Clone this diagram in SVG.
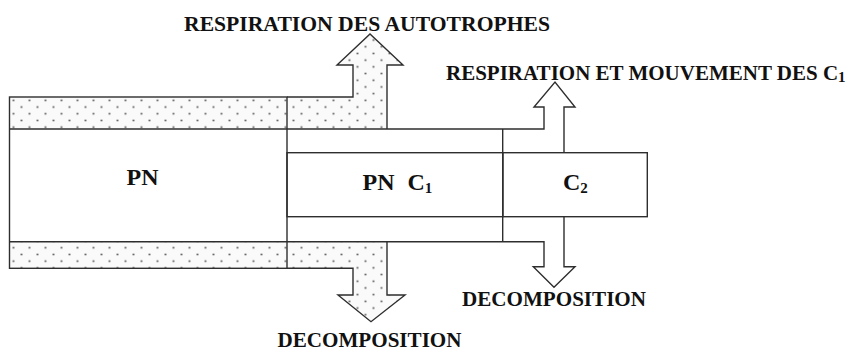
<svg xmlns="http://www.w3.org/2000/svg" width="854" height="352" viewBox="0 0 854 352">
  <style>
    .ln { fill: none; stroke: #2e2e2e; stroke-width: 1.4; stroke-linejoin: miter; }
    .dot { fill: url(#dots); stroke: none; }
    .lbl { font-family: "Liberation Serif", "Times New Roman", serif; font-weight: bold; fill: #111; }
    .big { font-size: 24px; }
    .sm { font-size: 21px; }
    .sub { font-size: 15px; }
  </style>
  <defs>
    <pattern id="dots" patternUnits="userSpaceOnUse" width="16" height="13.4" x="9.5" y="97">
      <rect width="16" height="13.4" fill="#fafafa"/>
      <circle cx="4" cy="3.4" r="0.9" fill="#444"/>
      <circle cx="12" cy="10.1" r="0.9" fill="#444"/>
    </pattern>
  </defs>
  <rect width="854" height="352" fill="#ffffff"/>

  <!-- dotted autotroph respiration / decomposition bands -->
  <g id="band-top">
    <polygon class="dot" points="9.5,97 353,97 353,65 337,65 370,34 403,65 387,65 387,129 9.5,129"/>
  </g>
  <g id="band-bottom">
    <polygon class="dot" points="9.5,241.7 387,241.7 387,295 405,295 371,321.7 338,295 353,295 353,268.3 9.5,268.3"/>
  </g>

  <g id="node-pn">
    <rect class="ln" x="9.5" y="97" width="277.5" height="171.3"/>
    <text class="lbl big" x="126.5" y="184.5">PN</text>
  </g>

  <g id="node-pnc1">
    <rect class="ln" x="287" y="152.7" width="215.7" height="64"/>
    <line class="ln" x1="502.7" y1="129" x2="502.7" y2="241.7"/>
    <text class="lbl big" x="362.5" y="190">PN<tspan dx="13">C</tspan><tspan class="sub" dy="3">1</tspan></text>
  </g>

  <g id="node-c2">
    <rect class="ln" x="502.7" y="152.7" width="144.6" height="64"/>
    <text class="lbl big" x="563" y="190">C<tspan class="sub" dy="3">2</tspan></text>
  </g>

  <g id="connectors">
    <!-- upper dotted arrow: respiration des autotrophes -->
    <polyline class="ln" points="287,97 353,97 353,65 337,65 370,34 403,65 387,65 387,129"/>
    <!-- line y=129 and arrow respiration C1 -->
    <polyline class="ln" points="9.5,129 544,129 544,107 534,107 555,82 575,107 564,107 564,152.7"/>
    <!-- line y=241.7 and arrow decomposition (right) -->
    <polyline class="ln" points="9.5,241.7 544,241.7 544,266.7 533.3,266.7 554,287.3 575,266.7 564,266.7 564,216.7"/>
    <!-- lower dotted arrow: decomposition -->
    <polyline class="ln" points="287,268.3 353,268.3 353,295 338,295 371,321.7 405,295 387,295 387,241.7"/>

    <text class="lbl sm" x="184" y="31" textLength="366" lengthAdjust="spacingAndGlyphs">RESPIRATION DES AUTOTROPHES</text>
    <text class="lbl sm" x="446" y="80">RESPIRATION ET MOUVEMENT DES C<tspan class="sub" font-size="14" dy="2">1</tspan></text>
    <text class="lbl sm" x="277.5" y="347" textLength="184" lengthAdjust="spacingAndGlyphs">DECOMPOSITION</text>
    <text class="lbl sm" x="462" y="306" textLength="184" lengthAdjust="spacingAndGlyphs">DECOMPOSITION</text>
  </g>
</svg>
